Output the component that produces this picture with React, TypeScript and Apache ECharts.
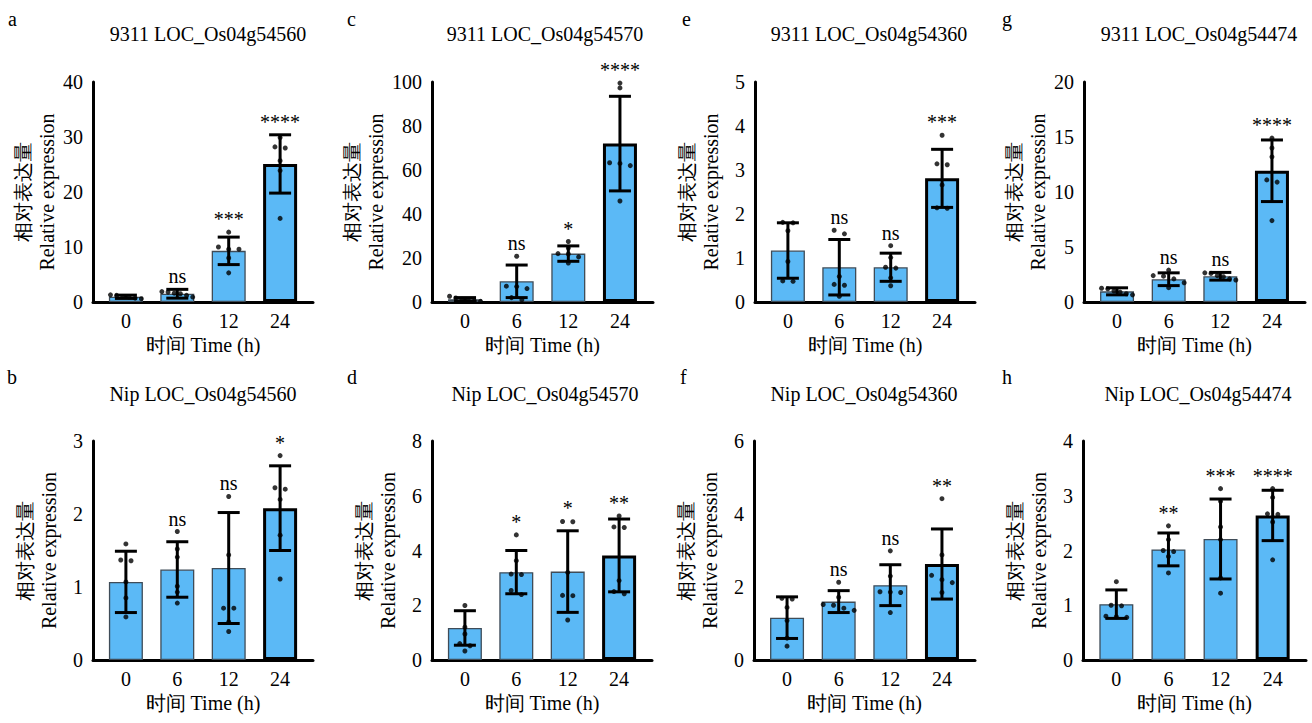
import React, { useEffect, useRef } from "react";
import * as echarts from "echarts";

// time points (h)
const times = ["0", "6", "12", "24"];

// a: 9311 LOC_Os04g54560
const aMean = [0.95, 1.5, 9.3, 25.1];
const aSd = [0.3, 0.8, 2.5, 5.3];
const aPts = [
  [1.3, 1.2, 1.0, 0.9, 0.7, 0.6],
  [1.9, 1.8, 1.5, 1.2, 0.9, 1.6],
  [12.7, 10.0, 9.6, 9.6, 8.0, 5.3],
  [29.9, 28.2, 28.0, 25.7, 23.9, 15.2],
];
const aSig = ["", "ns", "***", "****"];

// b: Nip LOC_Os04g54560
const bMean = [1.07, 1.24, 1.26, 2.08];
const bSd = [0.42, 0.38, 0.76, 0.58];
const bPts = [
  [1.59, 1.37, 1.36, 1.07, 0.85, 0.59],
  [1.76, 1.52, 1.41, 1.01, 0.93, 0.78],
  [2.24, 1.44, 0.71, 0.71, 0.52, 0.39],
  [2.8, 2.36, 2.34, 2.2, 1.71, 1.11],
];
const bSig = ["", "ns", "ns", "*"];

// c: 9311 LOC_Os04g54570
const cMean = [1.2, 9.4, 22.0, 72.0];
const cSd = [0.8, 7.4, 3.5, 21.5];
const cPts = [
  [2.6, 1.8, 1.2, 0.8, 0.5, 0.3],
  [20.8, 7.2, 7.0, 6.1, 2.0, 1.0],
  [27.5, 24.5, 22.0, 21.8, 20.5, 17.7],
  [99.5, 97.3, 63.3, 63.0, 62.0, 45.9],
];
const cSig = ["", "ns", "*", "****"];

// d: Nip LOC_Os04g54570
const dMean = [1.17, 3.21, 3.23, 3.82];
const dSd = [0.63, 0.79, 1.49, 1.33];
const dPts = [
  [1.99, 1.2, 0.95, 0.6, 0.52, 0.33],
  [4.57, 3.63, 3.14, 3.12, 2.54, 2.39],
  [5.06, 5.05, 3.2, 2.36, 2.35, 1.46],
  [5.26, 4.86, 4.84, 2.9, 2.5, 2.42],
];
const dSig = ["", "*", "*", "**"];

// e: 9311 LOC_Os04g54360
const eMean = [1.17, 0.79, 0.79, 2.81];
const eSd = [0.63, 0.63, 0.32, 0.66];
const ePts = [
  [1.81, 1.8, 1.62, 0.92, 0.48, 0.47],
  [1.63, 1.55, 0.58, 0.4, 0.38, 0.13],
  [1.28, 1.01, 0.79, 0.77, 0.55, 0.37],
  [3.79, 3.14, 3.12, 2.66, 2.14, 2.13],
];
const eSig = ["", "ns", "ns", "***"];

// f: Nip LOC_Os04g54360
const fMean = [1.16, 1.6, 2.05, 2.63];
const fSd = [0.57, 0.3, 0.56, 0.96];
const fPts = [
  [1.69, 1.67, 1.44, 1.08, 0.6, 0.38],
  [2.13, 1.72, 1.52, 1.5, 1.42, 1.36],
  [2.99, 2.3, 1.87, 1.86, 1.85, 1.3],
  [4.42, 2.88, 2.32, 2.2, 2.12, 1.85],
];
const fSig = ["", "ns", "ns", "**"];

// g: 9311 LOC_Os04g54474
const gMean = [0.97, 2.07, 2.34, 11.93];
const gSd = [0.32, 0.58, 0.35, 2.8];
const gPts = [
  [1.25, 1.2, 1.0, 0.9, 0.75, 0.65],
  [2.9, 2.4, 2.35, 2.1, 1.75, 1.3],
  [2.65, 2.6, 2.4, 2.3, 2.1, 2.0],
  [14.9, 14.0, 13.2, 11.1, 10.9, 7.4],
];
const gSig = ["", "ns", "ns", "****"];

// h: Nip LOC_Os04g54474
const hMean = [1.02, 2.02, 2.21, 2.64];
const hSd = [0.26, 0.3, 0.73, 0.46];
const hPts = [
  [1.43, 0.99, 0.8, 0.79, 0.78, 1.0],
  [2.45, 2.0, 1.98, 1.89, 1.59, 2.2],
  [3.13, 2.9, 2.43, 2.2, 1.5, 1.22],
  [3.13, 2.97, 2.67, 2.66, 2.52, 1.83],
];
const hSig = ["", "**", "***", "****"];

// echarts quotes fontFamily as a single name, so keep it to one family
const FAMILY = "Liberation Serif";
const FONT = "20px 'Liberation Serif', 'Noto Sans CJK SC', serif";

const panels = [
  { letter: "a", title: "9311 LOC_Os04g54560", yMax: 40, step: 10, mean: aMean, sd: aSd, pts: aPts, sig: aSig, left: 93, top: 82, width: 220, height: 220, lx: 8, tx: 208 },
  { letter: "c", title: "9311 LOC_Os04g54570", yMax: 100, step: 20, mean: cMean, sd: cSd, pts: cPts, sig: cSig, left: 432, top: 82, width: 221, height: 220, lx: 347, tx: 545 },
  { letter: "e", title: "9311 LOC_Os04g54360", yMax: 5, step: 1, mean: eMean, sd: eSd, pts: ePts, sig: eSig, left: 755, top: 82, width: 220, height: 220, lx: 682, tx: 869 },
  { letter: "g", title: "9311 LOC_Os04g54474", yMax: 20, step: 5, mean: gMean, sd: gSd, pts: gPts, sig: gSig, left: 1084, top: 82, width: 221, height: 220, lx: 1002, tx: 1199 },
  { letter: "b", title: "Nip LOC_Os04g54560", yMax: 3, step: 1, mean: bMean, sd: bSd, pts: bPts, sig: bSig, left: 93, top: 441, width: 220, height: 219, lx: 7, tx: 203 },
  { letter: "d", title: "Nip LOC_Os04g54570", yMax: 8, step: 2, mean: dMean, sd: dSd, pts: dPts, sig: dSig, left: 432, top: 441, width: 220, height: 219, lx: 347, tx: 545 },
  { letter: "f", title: "Nip LOC_Os04g54360", yMax: 6, step: 2, mean: fMean, sd: fSd, pts: fPts, sig: fSig, left: 754, top: 441, width: 221, height: 219, lx: 680, tx: 864 },
  { letter: "h", title: "Nip LOC_Os04g54474", yMax: 4, step: 1, mean: hMean, sd: hSd, pts: hPts, sig: hSig, left: 1083, top: 441, width: 223, height: 219, lx: 1002, tx: 1198 },
];

// spread points that sit at nearly the same height side by side
function swarm(vals: number[], thr: number): number[] {
  const order = vals.map((_, i) => i).sort((p, q) => vals[q] - vals[p]);
  const off = vals.map(() => 0);
  let k = 0;
  while (k < order.length) {
    let j = k + 1;
    while (j < order.length && vals[order[j - 1]] - vals[order[j]] < thr) j++;
    const n = j - k;
    const gap = n > 1 ? Math.min(0.2, 0.6 / (n - 1)) : 0;
    for (let t = 0; t < n; t++) off[order[k + t]] = (t - (n - 1) / 2) * gap;
    k = j;
  }
  return off;
}

export default function App() {
  const chartRef = useRef<HTMLDivElement>(null);

  useEffect(() => {
    document.body.style.margin = "0";
    if (!chartRef.current) return;
    const chart = echarts.init(chartRef.current, null, { renderer: "svg" });

    const txt = { fontFamily: FAMILY, fontSize: 20, color: "#000" };
    const grid: any[] = [];
    const xAxis: any[] = [];
    const yAxis: any[] = [];
    const series: any[] = [];
    const graphic: any[] = [];

    panels.forEach((p, i) => {
      grid.push({
        left: p.left,
        top: p.top,
        width: p.width,
        height: p.height,
        containLabel: false,
        outerBoundsMode: "none",
      });
      xAxis.push({
        type: "value",
        gridIndex: i,
        min: -0.64,
        max: 3.64,
        axisLine: { show: true, onZero: false, lineStyle: { color: "#000", width: 3 } },
        axisTick: { show: false },
        splitLine: { show: false },
        axisLabel: {
          ...txt,
          margin: 9,
          customValues: [0, 1, 2, 3],
          formatter: (v: number) => times[Math.round(v)] ?? "",
        },
        name: "时间 Time (h)",
        nameLocation: "middle",
        nameGap: 33,
        nameTextStyle: txt,
      });
      yAxis.push({
        type: "value",
        gridIndex: i,
        min: 0,
        max: p.yMax,
        interval: p.step,
        axisLine: { show: true, onZero: false, lineStyle: { color: "#000", width: 3 } },
        axisTick: { show: false },
        splitLine: { show: false },
        axisLabel: { ...txt, margin: 10 },
        name: "相对表达量\nRelative expression",
        nameLocation: "middle",
        nameRotate: 90,
        nameGap: 32,
        nameTextStyle: { ...txt, lineHeight: 24 },
      });

      series.push({
        type: "bar",
        xAxisIndex: i,
        yAxisIndex: i,
        barWidth: 34,
        z: 2,
        itemStyle: { color: "#5BB9F6", borderColor: "#3f4c58", borderWidth: 1.3 },
        data: p.mean.map((m, k) => ({
          value: [k, m],
          itemStyle: k === 3 ? { borderColor: "#000", borderWidth: 3 } : undefined,
        })),
      });

      series.push({
        type: "custom",
        xAxisIndex: i,
        yAxisIndex: i,
        z: 3,
        clip: false,
        data: p.mean.map((m, k) => [k, m, p.sd[k], Math.max(m + p.sd[k], ...p.pts[k])]),
        renderItem: (params: any, api: any) => {
          const x = api.value(0);
          const m = api.value(1);
          const s = api.value(2);
          const hi = api.coord([x, m + s]);
          const lo = api.coord([x, Math.max(m - s, 0)]);
          const top = api.coord([x, api.value(3)]);
          const w = 11;
          const ls = { stroke: "#000", lineWidth: 3 };
          return {
            type: "group",
            children: [
              { type: "line", shape: { x1: hi[0], y1: hi[1], x2: lo[0], y2: lo[1] }, style: ls },
              { type: "line", shape: { x1: hi[0] - w, y1: hi[1], x2: hi[0] + w, y2: hi[1] }, style: ls },
              { type: "line", shape: { x1: lo[0] - w, y1: lo[1], x2: lo[0] + w, y2: lo[1] }, style: ls },
              {
                type: "text",
                x: top[0],
                y: top[1] - 3,
                style: {
                  text: p.sig[params.dataIndex],
                  font: FONT,
                  fill: "#000",
                  textAlign: "center",
                  textVerticalAlign: "bottom",
                },
              },
            ],
          };
        },
      });

      const thr = p.yMax * 0.02;
      const dots: number[][] = [];
      p.pts.forEach((vals, k) => {
        const off = swarm(vals, thr);
        vals.forEach((v, t) => dots.push([k + off[t], v]));
      });
      series.push({
        type: "scatter",
        xAxisIndex: i,
        yAxisIndex: i,
        z: 4,
        symbolSize: 5,
        itemStyle: { color: "#000" },
        data: dots,
      });

      const row = i < 4 ? 0 : 1;
      graphic.push({
        type: "text",
        x: p.lx,
        y: row === 0 ? 19 : 377,
        style: { text: p.letter, font: FONT, fill: "#000", textVerticalAlign: "middle" },
      });
      graphic.push({
        type: "text",
        x: p.tx,
        y: row === 0 ? 34 : 394,
        style: { text: p.title, font: FONT, fill: "#000", textAlign: "center", textVerticalAlign: "middle" },
      });
    });

    chart.setOption({
      animation: false,
      backgroundColor: "#fff",
      textStyle: { fontFamily: FAMILY },
      grid,
      xAxis,
      yAxis,
      series,
      graphic,
    });

    return () => {
      chart.dispose();
    };
  }, []);

  return <div ref={chartRef} style={{ width: "1312px", height: "723px" }} />;
}
